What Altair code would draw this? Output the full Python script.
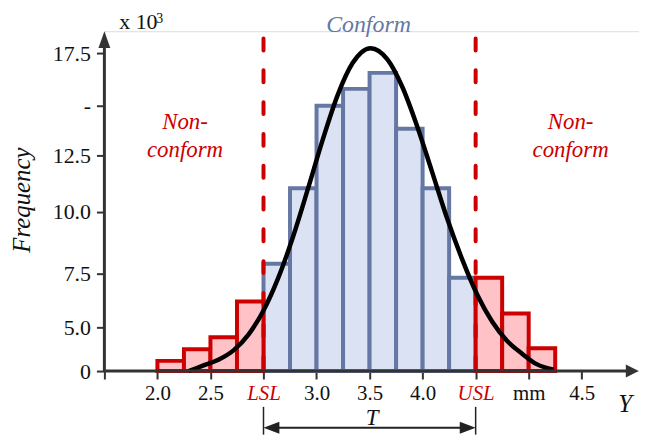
import altair as alt
import pandas as pd

# ---- data (axis units: x = tick index, y = thousands on the drawn scale) ----
bin_left = [0.0, 0.5, 1.0, 1.5, 2.0, 2.5, 3.0, 3.5, 4.0, 4.5, 5.0, 5.5, 6.0, 6.5, 7.0]
bin_height = [0.56, 1.20, 1.86, 3.83, 5.91, 10.06, 14.60, 15.53, 16.41, 13.34, 10.06, 5.14, 5.14, 3.17, 1.26]
bin_zone = ["Non-conform"] * 4 + ["Conform"] * 8 + ["Non-conform"] * 3

x_ticks = [-1, 0, 1, 2, 3, 4, 5, 6, 7, 8]
x_labels = ["", "2.0", "2.5", "LSL", "3.0", "3.5", "4.0", "USL", "mm", "4.5"]
y_ticks = [0, 2.39, 5.36, 8.77, 11.87, 14.60, 17.5]
y_labels = ["0", "5.0", "7.5", "10.0", "12.5", "-", "17.5"]

curve_x = [0.59, 0.87, 1.15, 1.44, 1.72, 2.00, 2.28, 2.56, 2.84, 3.12, 3.40, 3.68, 4.02,
           4.34, 4.62, 4.90, 5.18, 5.46, 5.75, 6.03, 6.31, 6.59, 6.87, 7.15, 7.47]
curve_y = [0.0, 0.31, 0.62, 1.15, 2.02, 3.33, 5.14, 7.42, 10.05, 12.76, 15.20, 16.95, 17.77,
           17.14, 15.62, 13.45, 10.95, 8.42, 6.12, 4.20, 2.73, 1.67, 0.97, 0.38, 0.08]

spec_limits = [2, 6]

FONT = "Liberation Serif"
RED = "#cc0000"
BLUE = "#6577a3"
AX = "#333333"

xs = alt.Scale(domain=[-1, 9.08], nice=False, zero=False)
ys = alt.Scale(domain=[0, 18.703], nice=False, zero=False)

bars = pd.DataFrame({
    "x": bin_left,
    "x2": [b + 0.5 for b in bin_left],
    "h": bin_height,
    "zone": bin_zone,
})
bars = pd.concat([bars[bars.zone == "Conform"], bars[bars.zone != "Conform"]])

y_expr = "''"
for v, l in reversed(list(zip(y_ticks, y_labels))):
    y_expr = f"abs(datum.value - {v}) < 0.01 ? '{l}' : ({y_expr})"
x_expr = "[" + ",".join(f"'{l}'" for l in x_labels) + "][datum.value + 1]"

x_axis = alt.Axis(
    values=x_ticks, labelExpr=x_expr, domain=False, grid=False, title=None,
    tickSize=8, tickWidth=2, tickColor=AX, labelFont=FONT, labelFontSize=21,
    labelPadding=4, labelFlush=False, labelOverlap=False,
    labelColor={"condition": {"test": "datum.value == 2 || datum.value == 6", "value": RED}, "value": "#111111"},
    labelFontStyle={"condition": {"test": "datum.value == 2 || datum.value == 6", "value": "italic"}, "value": "normal"},
)
y_axis = alt.Axis(
    values=y_ticks, labelExpr=y_expr, domain=False, grid=False, title=None,
    tickSize=8, tickWidth=2, tickColor=AX, labelFont=FONT, labelFontSize=22,
    labelPadding=6, labelColor="#111111", labelOverlap=False, labelFlush=False,
)

zone_fill = alt.Scale(domain=["Conform", "Non-conform"], range=["#dae2f4", "#ffc2c6"])
zone_stroke = alt.Scale(domain=["Conform", "Non-conform"], range=[BLUE, RED])

bar_layer = alt.Chart(bars).mark_rect(strokeWidth=4).encode(
    x=alt.X("x:Q", scale=xs, axis=x_axis),
    x2="x2:Q",
    y=alt.Y("h:Q", scale=ys, axis=y_axis),
    y2=alt.datum(0),
    fill=alt.Fill("zone:N", scale=zone_fill, legend=None),
    stroke=alt.Stroke("zone:N", scale=zone_stroke, legend=None),
)

limits_df = pd.DataFrame({"x": spec_limits, "top": [18.30, 18.30]})
limit_layer = alt.Chart(limits_df).mark_rule(
    color=RED, strokeWidth=4, strokeDash=[12, 20], strokeCap="round"
).encode(
    x=alt.X("x:Q", scale=xs), y=alt.Y("top:Q", scale=ys), y2=alt.datum(0)
)

curve_df = pd.DataFrame({"x": curve_x, "y": curve_y})
curve_layer = alt.Chart(curve_df).mark_line(
    color="black", strokeWidth=4.5, interpolate="monotone"
).encode(x=alt.X("x:Q", scale=xs), y=alt.Y("y:Q", scale=ys))

# axis lines with arrowheads
axes_df = pd.DataFrame({"x": [-1, -1], "x2": [8.85, -1], "y": [0, 0], "y2": [0, 18.0]})
axis_lines = alt.Chart(axes_df).mark_rule(color=AX, strokeWidth=3).encode(
    x=alt.X("x:Q", scale=xs), x2="x2:Q", y=alt.Y("y:Q", scale=ys), y2="y2:Q"
)
x_arrow = alt.Chart(pd.DataFrame({"x": [9.075], "y": [0]})).mark_point(
    shape="M0,0L-2,-1L-2,1Z", filled=True, size=169, color=AX, opacity=1
).encode(x=alt.X("x:Q", scale=xs), y=alt.Y("y:Q", scale=ys))
y_arrow = alt.Chart(pd.DataFrame({"x": [-1], "y": [18.703]})).mark_point(
    shape="M0,0L-0.7,2L0.7,2Z", filled=True, size=289, color=AX, opacity=1
).encode(x=alt.X("x:Q", scale=xs), y=alt.Y("y:Q", scale=ys))

# tolerance arrow T
t_line = alt.Chart(pd.DataFrame({"x": [2.15], "x2": [5.85], "y": [-3.117]})).mark_rule(
    color="#222222", strokeWidth=2
).encode(x=alt.X("x:Q", scale=xs), x2="x2:Q", y=alt.Y("y:Q", scale=ys))
t_ticks = alt.Chart(pd.DataFrame({"x": spec_limits, "y": [-1.97, -1.97], "y2": [-3.5, -3.5]})).mark_rule(
    color="#222222", strokeWidth=1.5
).encode(x=alt.X("x:Q", scale=xs), y=alt.Y("y:Q", scale=ys), y2="y2:Q")
t_left = alt.Chart(pd.DataFrame({"x": [2], "y": [-3.117]})).mark_point(
    shape="M0,0L2,-0.75L2,0.75Z", filled=True, size=256, color="#222222", opacity=1
).encode(x=alt.X("x:Q", scale=xs), y=alt.Y("y:Q", scale=ys))
t_right = alt.Chart(pd.DataFrame({"x": [6], "y": [-3.117]})).mark_point(
    shape="M0,0L-2,-0.75L-2,0.75Z", filled=True, size=256, color="#222222", opacity=1
).encode(x=alt.X("x:Q", scale=xs), y=alt.Y("y:Q", scale=ys))


def label(x, y, text, size, color="#111111", style="normal", align="center", angle=0, baseline="alphabetic"):
    return alt.Chart(pd.DataFrame({"x": [x], "y": [y], "t": [text]})).mark_text(
        font=FONT, fontSize=size, color=color, fontStyle=style, align=align,
        baseline=baseline, angle=angle
    ).encode(x=alt.X("x:Q", scale=xs), y=alt.Y("y:Q", scale=ys), text="t:N")


texts = [
    label(3.98, 18.65, "Conform", 24, color=BLUE, style="italic"),
    label(0.52, 13.34, "Non-", 23, color=RED, style="italic"),
    label(0.52, 11.76, "conform", 23, color=RED, style="italic"),
    label(7.79, 13.34, "Non-", 23, color=RED, style="italic"),
    label(7.79, 11.76, "conform", 23, color=RED, style="italic"),
    label(-0.72, 18.81, "x 10", 22, align="left"),
    label(-0.02, 19.14, "3", 14, align="left"),
    label(-2.56, 9.41, "Frequency", 25, style="italic", angle=270, baseline="middle"),
    label(8.82, -2.24, "Y", 25, style="italic"),
    label(4.05, -2.96, "T", 23, style="italic"),
]

chart = alt.layer(
    bar_layer, limit_layer, curve_layer, axis_lines, x_arrow, y_arrow,
    t_line, t_ticks, t_left, t_right, *texts
).properties(
    width=538, height=342,
    padding={"left": 97, "top": 22, "right": 0, "bottom": 64},
    autosize=alt.AutoSizeParams(type="none"),
).configure_view(stroke=None).configure(background="white")

chart.save("out.html", embed_options={"renderer": "svg", "actions": False})
